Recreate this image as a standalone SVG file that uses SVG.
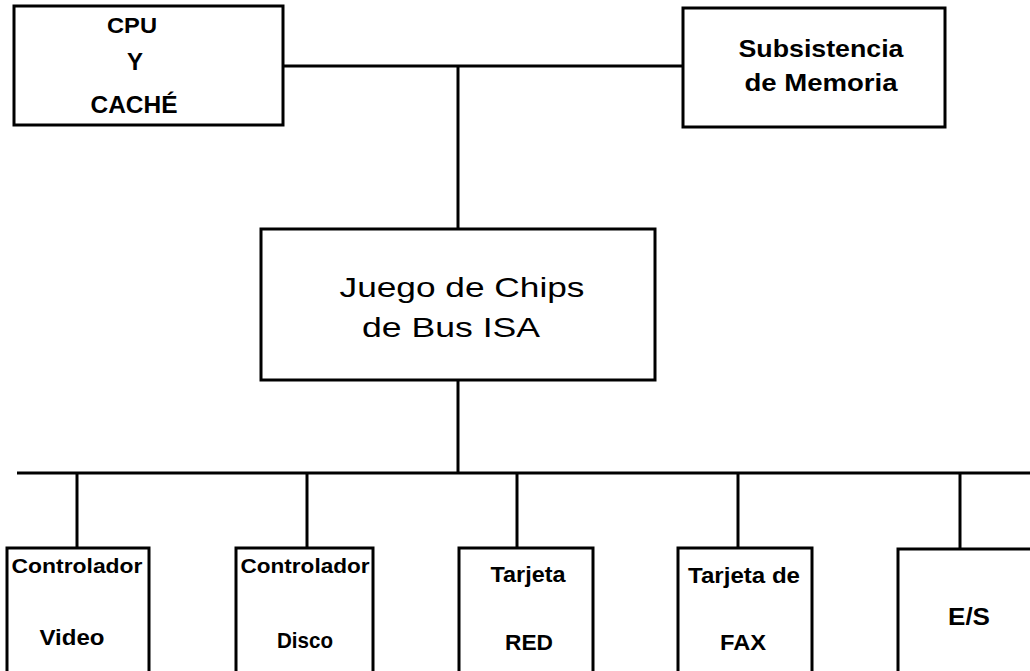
<svg xmlns="http://www.w3.org/2000/svg" width="1030" height="671" viewBox="0 0 1030 671">
<style>
.box{fill:#fff;stroke:#000;stroke-width:3}
.ln{stroke:#000;stroke-width:3;fill:none}
.b{font-family:"Liberation Sans",Arial,sans-serif;font-weight:bold;fill:#000;text-anchor:middle}
.r{font-family:"Liberation Sans",Arial,sans-serif;fill:#000;text-anchor:middle}
</style>
<rect width="1030" height="671" fill="#fff"/>
<g id="connectors">
<line class="ln" x1="283" y1="66" x2="683" y2="66"/>
<line class="ln" x1="458" y1="66" x2="458" y2="229"/>
<line class="ln" x1="458" y1="380" x2="458" y2="473"/>
<line class="ln" x1="17" y1="473" x2="1030" y2="473"/>
<line class="ln" x1="77" y1="473" x2="77" y2="548"/>
<line class="ln" x1="307" y1="473" x2="307" y2="548"/>
<line class="ln" x1="517" y1="473" x2="517" y2="548"/>
<line class="ln" x1="738" y1="473" x2="738" y2="548"/>
<line class="ln" x1="960" y1="473" x2="960" y2="548"/>
</g>
<g id="cpu">
<rect class="box" x="14" y="6" width="269" height="119"/>
<text class="b" x="132" y="33" font-size="22" textLength="50" lengthAdjust="spacingAndGlyphs">CPU</text>
<text class="b" x="135" y="70" font-size="24">Y</text>
<text class="b" x="134" y="113" font-size="23" textLength="87" lengthAdjust="spacingAndGlyphs">CACHÉ</text>
</g>
<g id="memoria">
<rect class="box" x="683" y="8" width="262" height="119"/>
<text class="b" x="821" y="57" font-size="24" textLength="165" lengthAdjust="spacingAndGlyphs">Subsistencia</text>
<text class="b" x="821" y="91" font-size="24" textLength="153" lengthAdjust="spacingAndGlyphs">de Memoria</text>
</g>
<g id="chips">
<rect class="box" x="261" y="229" width="394" height="151"/>
<text class="r" x="462" y="297" font-size="28" textLength="245" lengthAdjust="spacingAndGlyphs">Juego de Chips</text>
<text class="r" x="451" y="337" font-size="28" textLength="178" lengthAdjust="spacingAndGlyphs">de Bus ISA</text>
</g>
<g id="video">
<rect class="box" x="7" y="548" width="142" height="130"/>
<text class="b" x="77" y="573" font-size="20" textLength="131" lengthAdjust="spacingAndGlyphs">Controlador</text>
<text class="b" x="72" y="645" font-size="22" textLength="65" lengthAdjust="spacingAndGlyphs">Video</text>
</g>
<g id="disco">
<rect class="box" x="236" y="548" width="137" height="130"/>
<text class="b" x="305" y="573" font-size="20" textLength="129" lengthAdjust="spacingAndGlyphs">Controlador</text>
<text class="b" x="305" y="648" font-size="22" textLength="56" lengthAdjust="spacingAndGlyphs">Disco</text>
</g>
<g id="red">
<rect class="box" x="459" y="548" width="134" height="130"/>
<text class="b" x="528" y="582" font-size="22" textLength="75" lengthAdjust="spacingAndGlyphs">Tarjeta</text>
<text class="b" x="529" y="650" font-size="22" textLength="48" lengthAdjust="spacingAndGlyphs">RED</text>
</g>
<g id="fax">
<rect class="box" x="678" y="548" width="134" height="130"/>
<text class="b" x="744" y="583" font-size="22" textLength="112" lengthAdjust="spacingAndGlyphs">Tarjeta de</text>
<text class="b" x="743" y="650" font-size="22" textLength="46" lengthAdjust="spacingAndGlyphs">FAX</text>
</g>
<g id="es">
<rect class="box" x="898" y="549" width="140" height="130"/>
<text class="b" x="969" y="625" font-size="23" textLength="42" lengthAdjust="spacingAndGlyphs">E/S</text>
</g>
</svg>
